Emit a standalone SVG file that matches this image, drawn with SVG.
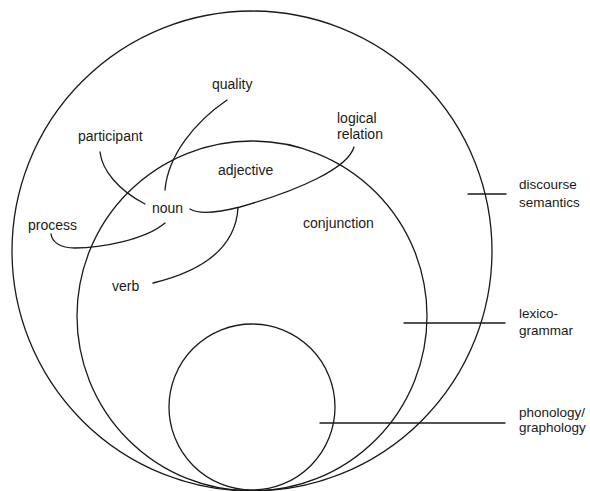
<svg xmlns="http://www.w3.org/2000/svg" width="590" height="491" viewBox="0 0 590 491">
<style>
.ring{fill:none;stroke:#1a1a1a;stroke-width:1.3}
.con{fill:none;stroke:#1a1a1a;stroke-width:1.3;stroke-linecap:round}
.t{font-family:"Liberation Sans",Arial,sans-serif;font-size:14px;fill:#1a1a1a}
.r{font-family:"Liberation Sans",Arial,sans-serif;font-size:13.5px;fill:#1a1a1a}
</style>
<rect width="590" height="491" fill="#ffffff"/>
<g id="discourse-semantics">
<circle class="ring" cx="252" cy="251" r="240"/>
<text class="r" x="519" y="189">discourse</text>
<text class="r" x="519" y="207">semantics</text>
</g>
<g id="lexicogrammar">
<circle class="ring" cx="252" cy="316" r="175"/>
<text class="r" x="519" y="318">lexico-</text>
<text class="r" x="519" y="335">grammar</text>
</g>
<g id="phonology-graphology">
<circle class="ring" cx="252" cy="407" r="83"/>
<text class="r" x="519" y="417">phonology/</text>
<text class="r" x="519" y="432">graphology</text>
</g>
<g id="quality"><text class="t" x="212" y="89">quality</text></g>
<g id="logical-relation"><text class="t" x="337" y="123">logical</text><text class="t" x="337" y="139">relation</text></g>
<g id="participant"><text class="t" x="78" y="141">participant</text></g>
<g id="adjective"><text class="t" x="218" y="175">adjective</text></g>
<g id="noun"><text class="t" x="152" y="213">noun</text></g>
<g id="process"><text class="t" x="28" y="230">process</text></g>
<g id="conjunction"><text class="t" x="303" y="228">conjunction</text></g>
<g id="verb"><text class="t" x="112" y="291">verb</text></g>
<g id="connectors">
<path class="con" d="M227,100 C195,122 168,155 165,190"/>
<path class="con" d="M100,152 C102,170 118,190 145,204"/>
<path class="con" d="M165,223 C145,240 100,248 75,248 C60,248 52,242 51,234"/>
<path class="con" d="M354,147 C348,168 300,190 240,207 C220,212 200,215 190,209"/>
<path class="con" d="M238,208 C236,240 215,268 153,283"/>
<line class="con" x1="468" y1="194" x2="506" y2="194"/>
<line class="con" x1="404" y1="323" x2="505" y2="323"/>
<line class="con" x1="320" y1="423" x2="505" y2="423"/>
</g>
</svg>
